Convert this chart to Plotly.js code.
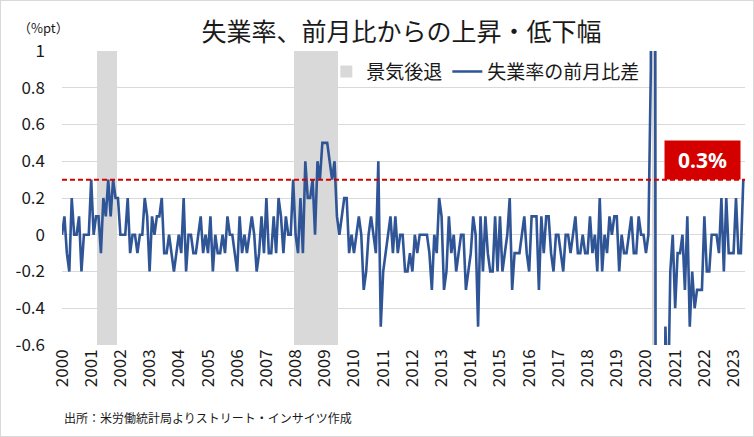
<!DOCTYPE html>
<html><head><meta charset="utf-8">
<script src="https://cdn.plot.ly/plotly-3.0.1.min.js"></script>
<style>
html,body{margin:0;padding:0;background:#fff}
#wrap{position:relative;width:754px;height:437px}
#chart{width:754px;height:437px}
#frame{position:absolute;left:0;top:0;width:754px;height:437px;box-sizing:border-box;border:1px solid #d9d9d9;pointer-events:none}
</style>
</head><body><div id="wrap"><div id="chart"></div><div id="frame"></div></div>
<script>
// Monthly change in unemployment rate (%pt)
const chg2000 = [0, 0.1, -0.1, -0.2, 0.2, 0, 0, 0.1, -0.2, 0, 0, 0];
const chg2001 = [0.3, 0, 0.1, 0.1, -0.1, 0.2, 0.1, 0.3, 0.1, 0.3, 0.2, 0.2];
const chg2002 = [0, 0, 0, 0.2, -0.1, 0, 0, -0.1, 0, 0, 0.2, 0.1];
const chg2003 = [-0.2, 0.1, 0, 0.1, 0.1, 0.2, -0.1, -0.1, 0, -0.1, -0.2, -0.1];
const chg2004 = [0, -0.1, 0.2, -0.2, 0, 0, -0.1, -0.1, 0, 0.1, -0.1, 0];
const chg2005 = [-0.1, 0.1, -0.2, 0, -0.1, -0.1, 0, -0.1, 0.1, 0, 0, -0.1];
const chg2006 = [-0.2, 0.1, -0.1, 0, -0.1, 0, 0.1, 0, -0.2, -0.1, 0.1, -0.1];
const chg2007 = [0.2, -0.1, -0.1, 0.1, -0.1, 0.2, 0.1, -0.1, 0.1, 0, 0, 0.3];
const chg2008 = [0, -0.1, 0.2, -0.1, 0.4, 0.2, 0.2, 0.3, 0, 0.4, 0.3, 0.5];
const chg2009 = [0.5, 0.5, 0.4, 0.3, 0.4, 0.1, 0, 0.1, 0.2, 0.2, -0.1, 0];
const chg2010 = [-0.1, 0, 0.1, 0, -0.3, -0.2, 0, 0.1, 0, -0.1, 0.4, -0.5];
const chg2011 = [-0.2, -0.1, 0, 0.1, -0.1, 0.1, -0.1, 0, 0, -0.2, -0.2, -0.1];
const chg2012 = [-0.2, 0, -0.1, 0, 0, 0, 0, -0.1, -0.3, 0, -0.1, 0.2];
const chg2013 = [0.1, -0.3, -0.2, 0.1, -0.1, 0, -0.2, -0.1, 0, 0, -0.3, -0.2];
const chg2014 = [-0.1, 0.1, 0, -0.5, 0.1, -0.2, 0.1, -0.1, -0.2, -0.2, 0.1, -0.2];
const chg2015 = [0.1, -0.2, -0.1, 0, 0.2, -0.3, -0.1, -0.1, -0.1, 0, 0.1, -0.1];
const chg2016 = [-0.2, 0.1, 0.1, 0.1, -0.3, 0.1, -0.1, 0.1, 0.1, -0.1, -0.2, 0];
const chg2017 = [0, -0.1, -0.2, 0, 0, -0.1, 0, 0.1, -0.1, -0.1, 0, -0.1];
const chg2018 = [-0.1, 0.1, -0.1, 0, -0.2, 0.2, -0.2, 0, -0.1, 0.1, 0, 0.1];
const chg2019 = [0.1, -0.2, 0, -0.1, -0.1, 0, 0.1, -0.1, -0.1, 0.1, 0, 0];
const chg2020 = [-0.1, 0, 0.9, 10.3, -1.4, -2.2, -0.9, -1.8, -0.5, -1.0, -0.2, 0];
const chg2021 = [-0.4, -0.1, -0.1, 0, -0.3, 0.1, -0.5, -0.2, -0.4, -0.3, -0.3, -0.3];
const chg2022 = [0.1, -0.2, -0.2, 0, 0, 0, -0.1, 0.2, -0.2, 0.2, -0.1, -0.1];
const chg2023 = [-0.1, 0.2, -0.1, -0.1, 0.3];

// Recession months (景気後退)
const recessionMonths = [
  '2001-04','2001-05','2001-06','2001-07','2001-08','2001-09','2001-10','2001-11',
  '2008-01','2008-02','2008-03','2008-04','2008-05','2008-06','2008-07','2008-08','2008-09',
  '2008-10','2008-11','2008-12','2009-01','2009-02','2009-03','2009-04','2009-05','2009-06',
  '2020-04','2020-05'
];

const yTickVals = [1, 0.8, 0.6, 0.4, 0.2, 0, -0.2, -0.4, -0.6];
const yTickText = ['1', '0.8', '0.6', '0.4', '0.2', '0', '-0.2', '-0.4', '-0.6'];

const values = [].concat(chg2000, chg2001, chg2002, chg2003, chg2004, chg2005, chg2006,
  chg2007, chg2008, chg2009, chg2010, chg2011, chg2012, chg2013, chg2014, chg2015,
  chg2016, chg2017, chg2018, chg2019, chg2020, chg2021, chg2022, chg2023);

const months = [];
for (let i = 0; i < values.length; i++) {
  const y = 2000 + Math.floor(i / 12), m = (i % 12) + 1;
  months.push(y + '-' + (m < 10 ? '0' : '') + m);
}
const xTickVals = months.filter(s => s.endsWith('-01'));
const xTickText = xTickVals.map(s => s.slice(0, 4));

const yMin = -0.6, yMax = 1;
const recY = months.map(s => recessionMonths.includes(s) ? (yMax - yMin) : null);
const lastVal = values[values.length - 1];

const FONT = '"Noto Sans CJK JP", "Noto Sans", sans-serif';

const traces = [
  {
    type: 'bar', name: '景気後退', x: months, y: recY, base: yMin,
    marker: {color: '#d9d9d9', line: {width: 0}}, hoverinfo: 'skip'
  },
  {
    type: 'scatter', mode: 'lines', name: '失業率の前月比差', x: months, y: values,
    line: {color: '#2f5597', width: 2.6}, hoverinfo: 'skip'
  }
];

const layout = {
  width: 754, height: 437,
  margin: {l: 62, r: 9, t: 51, b: 92, pad: 0},
  paper_bgcolor: '#ffffff', plot_bgcolor: '#ffffff',
  font: {family: FONT, color: '#1a1a1a'},
  bargap: 0,
  showlegend: true,
  title: {
    text: '失業率、前月比からの上昇・低下幅',
    x: 0.5325, xanchor: 'center', y: 1 - 32 / 437, yanchor: 'middle',
    font: {family: FONT, size: 25, color: '#1a1a1a'}
  },
  legend: {
    orientation: 'h', x: 0.387, xanchor: 'left', y: 0.93, yanchor: 'middle',
    font: {family: FONT, size: 19, color: '#1a1a1a'}, bgcolor: 'rgba(0,0,0,0)',
    traceorder: 'normal'
  },
  xaxis: {
    type: 'category', categoryorder: 'array', categoryarray: months,
    range: [0, 280.7], tickmode: 'array', tickvals: xTickVals, ticktext: xTickText,
    tickangle: -90, tickfont: {family: FONT, size: 17, color: '#1a1a1a'},
    showgrid: false, zeroline: false, showline: false, ticks: '',
    automargin: false, fixedrange: true
  },
  yaxis: {
    range: [yMin, yMax], tickmode: 'array', tickvals: yTickVals, ticktext: yTickText,
    tickfont: {family: FONT, size: 17, color: '#1a1a1a'},
    showgrid: true, gridcolor: '#d9d9d9', gridwidth: 1, zeroline: false, showline: false,
    ticks: '', ticklabelstandoff: 16, automargin: false, fixedrange: true
  },
  shapes: [
    {
      type: 'line', xref: 'paper', x0: 0, x1: 1, yref: 'y', y0: lastVal, y1: lastVal,
      line: {color: '#d40000', width: 2, dash: '5px,3px'}, layer: 'above'
    }
  ],
  annotations: [
    {
      text: '（%pt）', xref: 'paper', yref: 'paper', x: -0.027, y: 1.08,
      xanchor: 'center', yanchor: 'middle', showarrow: false,
      font: {family: FONT, size: 13, color: '#1a1a1a'}
    },
    {
      text: '出所：米労働統計局よりストリート・インサイツ作成', xref: 'paper', yref: 'paper',
      x: 0, y: -0.245, xanchor: 'left', yanchor: 'middle', showarrow: false,
      font: {family: FONT, size: 12, color: '#1a1a1a'}
    },
    {
      text: '<b>' + lastVal.toFixed(1) + '%</b>', xref: 'paper', yref: 'y',
      x: (741 - 62) / 683, y: lastVal, xanchor: 'right', yanchor: 'bottom',
      showarrow: false, bgcolor: '#d40000', borderpad: 0, width: 75, height: 38,
      align: 'center', valign: 'middle',
      font: {family: '"Noto Sans", sans-serif', size: 21, color: '#ffffff'}
    }
  ]
};

Plotly.newPlot('chart', traces, layout, {staticPlot: true, displayModeBar: false});
</script></body></html>
